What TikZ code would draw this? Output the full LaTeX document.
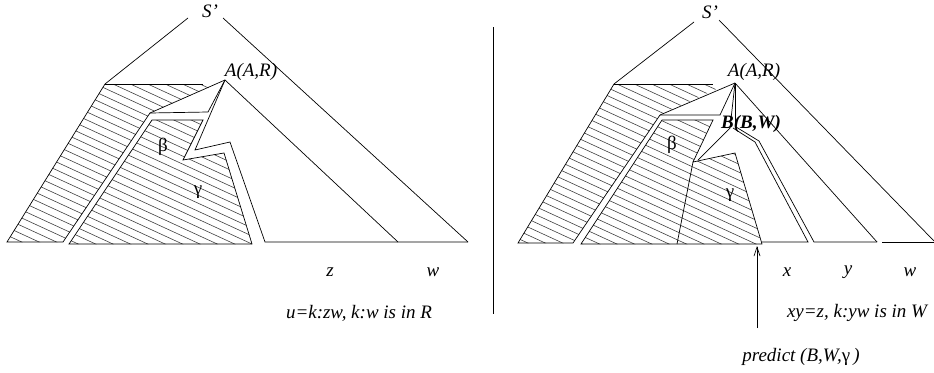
\documentclass[tikz,border=0pt]{standalone}
\usepackage{fontspec}
\setmainfont{Liberation Serif}
\usetikzlibrary{arrows.meta}
\tikzset{
  edge/.style={line width=0.7pt},
  hatchline/.style={line width=0.6pt, black!75},
  lbl/.style={font=\fontsize{19}{22}\selectfont\itshape, inner sep=0pt},
  greek/.style={font=\fontsize{19}{22}\selectfont, inner sep=0pt},
}
% hatching of a closed region
\newcommand{\hatchfill}[1]{%
  \begin{scope}
    \clip #1;
    \foreach \c in {-480,-472,...,260}
      \draw[hatchline] (0,\c) -- (934,\c+430);
  \end{scope}}
\begin{document}
\begin{tikzpicture}[x=1pt,y=-1pt]
        \useasboundingbox (0,0) rectangle (934,372);

        % ---------- left tree ----------
        \coordinate (Sl) at (210,11);
        \coordinate (Al) at (225,80);

        % hatched regions
        \hatchfill{(105,84) -- (203,84) -- (213,86) -- (150,113) -- (63,242) -- (7,242) -- cycle}
        \hatchfill{(152,120) -- (203,120) -- (183,160) -- (224,153) -- (252,244) -- (69,244) -- cycle}

        % S' triangle
        \draw[edge] (188,18) -- (105,84) -- (7,242) -- (63,242) -- (150,113) -- (Al);
        \draw[edge] (105,84) -- (203,84);
        \draw[edge] (223,18) -- (468,242);
        \draw[edge] (150,113) -- (208,112) -- (Al);

        % lightning band
        \draw[edge] (Al) -- (195,150) -- (230,142) -- (265,242) -- (468,242);
        \draw[edge] (Al) -- (398,242);

        % inner region beta / gamma
        \draw[edge] (152,120) -- (203,120) -- (183,160) -- (224,153) -- (252,244) -- (69,244) -- cycle;

        % labels
        \node[lbl] (sl) at (Sl) {S’};
        \node[lbl] (al) at (251,72) {A(A,R)};
        \node[greek] (bl) at (163,147) {β};
        \node[greek] (gl) at (198,192) {γ};
        \node[lbl] (zl) at (330,272) {z};
        \node[lbl] (wl) at (433,272) {w};
        \node[lbl] (ul) at (359,313) {u=k:zw, k:w is in R};

        % divider
        \draw[edge] (493,27) -- (493,314);

        % ---------- right tree ----------
        \coordinate (Ar) at (735,83);

        % hatched regions
        \hatchfill{(614,84) -- (713,84) -- (723,86) -- (660,115) -- (573,243) -- (518,243) -- cycle}
        \hatchfill{(662,120) -- (713,120) -- (693,162) -- (735,153) -- (762,244) -- (581,244) -- cycle}

        % S' triangle
        \draw[edge] (694,22) -- (614,84) -- (518,243) -- (573,243) -- (660,115) -- (Ar);
        \draw[edge] (614,84) -- (713,84);
        \draw[edge] (719,20) -- (934,241);
        \draw[edge] (660,115) -- (720,115) -- (Ar);

        % B subtree
        \draw[edge] (Ar) -- (730,128) -- (698,160);
        \draw[edge] (Ar) -- (735,128);
        \draw[edge] (733,128) -- (755,142) -- (808,242) -- (762,242);
        \draw[edge] (736,127) -- (759,141) -- (814,242) -- (877,242);
        \draw[edge] (Ar) -- (877,242);
        \draw[edge] (882,242) -- (934,242);

        % inner region beta / gamma
        \draw[edge] (662,120) -- (713,120) -- (693,162) -- (735,153) -- (762,244) -- (581,244) -- cycle;
        \draw[edge] (693,162) -- (677,244);

        % labels
        \node[lbl] (sr) at (710,12) {S’};
        \node[lbl] (ar) at (754,72) {A(A,R)};
        \node[lbl, font=\fontsize{19}{22}\selectfont\bfseries\itshape] (br) at (751,124) {B(B,W)};
        \node[greek] (betar) at (672,145) {β};
        \node[greek] (gr) at (730,195) {γ};
        \node[lbl] (xr) at (787,272) {x};
        \node[lbl] (yr) at (848,272) {y};
        \node[lbl] (wr) at (910,272) {w};
        \node[lbl] (xyr) at (857,313) {xy=z, k:yw is in W};
        \node[lbl] (pr) at (801,357) {predict (B,W,{\upshape γ}\,)};

        % predict arrow
        \coordinate (pt) at (757,246);
        \draw[edge,-{Straight Barb[length=9pt,width=6pt]}] (757,328) -- (pt);
    \end{tikzpicture}
\end{document}
